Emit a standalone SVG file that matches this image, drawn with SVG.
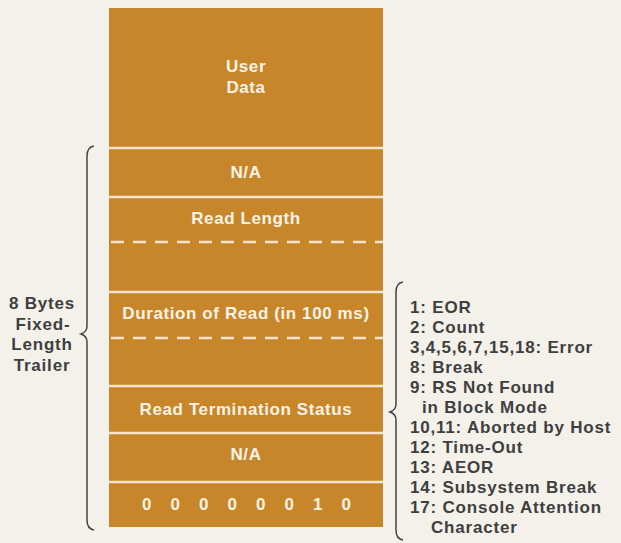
<svg xmlns="http://www.w3.org/2000/svg" width="621" height="543" viewBox="0 0 621 543">
<style>
.bg{fill:#f3f1ea}
.cell{fill:#c8862a}
.sep{stroke:#f6e4cf;stroke-width:2.5;fill:none}
.dash{stroke:#f6e4cf;stroke-width:2.5;fill:none;stroke-dasharray:13 9}
.in{font-family:"Liberation Sans",Arial,sans-serif;font-weight:bold;font-size:17px;fill:#fbf3e6;text-anchor:middle;letter-spacing:0.6px}
.lbl{font-family:"Liberation Sans",Arial,sans-serif;font-weight:bold;font-size:17px;fill:#3f3f3f;letter-spacing:0.8px}
.brace{stroke:#444;stroke-width:1.5;fill:none}
</style>
<rect class="bg" x="0" y="0" width="621" height="543"/>
<g id="user-data"><rect class="cell" x="109" y="8" width="274" height="140"/><text class="in" x="246" y="72">User</text><text class="in" x="246" y="93">Data</text></g>
<g id="na1"><rect class="cell" x="109" y="148" width="274" height="49"/><text class="in" x="246" y="178">N/A</text></g>
<g id="read-length"><rect class="cell" x="109" y="197" width="274" height="95"/><text class="in" x="246" y="224">Read Length</text></g>
<g id="duration"><rect class="cell" x="109" y="292" width="274" height="94"/><text class="in" x="246" y="319">Duration of Read (in 100 ms)</text></g>
<g id="termination"><rect class="cell" x="109" y="386" width="274" height="47"/><text class="in" x="246" y="415">Read Termination Status</text></g>
<g id="na2"><rect class="cell" x="109" y="433" width="274" height="49"/><text class="in" x="246" y="460">N/A</text></g>
<g id="bits"><rect class="cell" x="109" y="482" width="274" height="45"/>
<text class="in" y="510"><tspan x="147">0</tspan><tspan x="175.5">0</tspan><tspan x="204">0</tspan><tspan x="232.5">0</tspan><tspan x="261">0</tspan><tspan x="289.5">0</tspan><tspan x="318">1</tspan><tspan x="346.5">0</tspan></text></g>
<g id="connectors">
<line class="sep" x1="109" y1="148" x2="383" y2="148"/>
<line class="sep" x1="109" y1="197" x2="383" y2="197"/>
<line class="dash" x1="111" y1="242" x2="383" y2="242"/>
<line class="sep" x1="109" y1="292" x2="383" y2="292"/>
<line class="dash" x1="111" y1="338" x2="383" y2="338"/>
<line class="sep" x1="109" y1="386" x2="383" y2="386"/>
<line class="sep" x1="109" y1="433" x2="383" y2="433"/>
<line class="sep" x1="109" y1="482" x2="383" y2="482"/>
<path class="brace" d="M94,146 Q87,147 87,156 L87,326 Q87,332 81,334 Q87,336 87,342 L87,520 Q87,529 94,530"/>
<path class="brace" d="M403,282 Q396,283 396,292 L396,404 Q396,410 390,412 Q396,414 396,420 L396,530 Q396,539 403,540"/>
</g>
<g id="trailer-label">
<text class="lbl" text-anchor="middle"><tspan x="42" y="309">8 Bytes</tspan><tspan x="43" y="330">Fixed-</tspan><tspan x="42" y="350">Length</tspan><tspan x="42" y="371">Trailer</tspan></text>
</g>
<g id="status-codes">
<text class="lbl"><tspan x="410" y="313">1: EOR</tspan><tspan x="410" y="333">2: Count</tspan><tspan x="410" y="353">3,4,5,6,7,15,18: Error</tspan><tspan x="410" y="373">8: Break</tspan><tspan x="410" y="393">9: RS Not Found</tspan><tspan x="422" y="413">in Block Mode</tspan><tspan x="410" y="433">10,11: Aborted by Host</tspan><tspan x="410" y="453">12: Time-Out</tspan><tspan x="410" y="473">13: AEOR</tspan><tspan x="410" y="493">14: Subsystem Break</tspan><tspan x="410" y="513">17: Console Attention</tspan><tspan x="431" y="533">Character</tspan></text>
</g>
</svg>
